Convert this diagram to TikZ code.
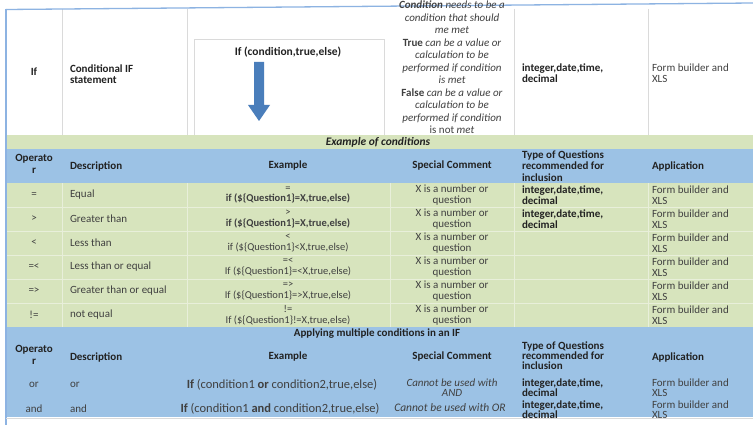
\documentclass[tikz,border=0pt]{standalone}
\usepackage{fontspec}
\setmainfont{Carlito}
\definecolor{greenc}{HTML}{D7E4BD}
\definecolor{bluec}{HTML}{9CC2E5}
\definecolor{gridg}{HTML}{E8EFDA}
\definecolor{gridw}{HTML}{DADADA}
\definecolor{bordc}{HTML}{8DB3E2}
\definecolor{arrowc}{HTML}{4A7EBB}
\definecolor{txtc}{HTML}{404040}
\definecolor{hdc}{HTML}{222222}
\begin{document}
\begin{tikzpicture}[x=1pt,y=-1pt,
  every node/.style={inner sep=0pt, outer sep=0pt},
  base/.style={font=\fontsize{11}{11.5}\selectfont, text=txtc},
  bh/.style={font=\fontsize{11}{11.5}\selectfont\bfseries, text=hdc},
  bht/.style={font=\fontsize{11}{10}\selectfont\bfseries, text=hdc},
  bt/.style={font=\fontsize{11}{10}\selectfont, text=txtc},
  bi/.style={font=\fontsize{11.5}{12}\selectfont\bfseries\itshape, text=hdc},
  it/.style={font=\fontsize{11}{10}\selectfont\itshape, text=txtc},
  sm/.style={font=\fontsize{10.5}{10.5}\selectfont, text=txtc},
  big/.style={font=\fontsize{12.5}{13}\selectfont, text=txtc},
  lft/.style={anchor=west, align=left},
  ctr/.style={anchor=center, align=center},
  gline/.style={draw=gridg, line width=0.7pt},
  wline/.style={draw=gridw, line width=0.6pt},
]
\useasboundingbox (0,0) rectangle (753,425);
\fill[white] (0,0) rectangle (753,425);
% bands
\fill[greenc] (6,135) rectangle (753,149);
\fill[bluec] (6,149) rectangle (753,183);
\fill[greenc] (6,183) rectangle (753,327);
\fill[bluec] (6,327) rectangle (753,417);
% grid in green rows
\foreach \yy in {207,231,255,279,303} \draw[gline] (6,\yy) -- (753,\yy);
\foreach \xx in {62,187,390,514,648} \draw[gline] (\xx,183) -- (\xx,327);
% grid in white top row
\foreach \xx in {62,187,514,648} \draw[wline] (\xx,9) -- (\xx,135);
\draw[wline] (194,135) -- (194,39) -- (384,39) -- (384,135);
% borders
\draw[bordc, line width=1.3pt] (6,9.5) -- (753,3);
\draw[bordc, line width=1.5pt] (6,9) -- (6,425);
\draw[draw=gridw, line width=0.8pt] (6,418.5) -- (753,418.5);
% block arrow
\fill[arrowc] (254,62) -- (264,62) -- (264,105) -- (270,105) -- (259,121) -- (248,105) -- (254,105) -- cycle;

% top row
\node[bh, ctr] (ifop) at (34,72) {If};
\node[bh, lft] (ifdesc) at (70,74) {Conditional IF\\statement};
\node[ctr, font=\fontsize{11.5}{12}\selectfont\bfseries, text=hdc] (ifex) at (288,52) {If (condition,true,else)};
\node[ctr, font=\fontsize{11}{12.5}\selectfont\itshape, text=txtc] (cond) at (452,67.5)
  {\textbf{Condition} needs to be a\\condition that should\\me met\\\textbf{\upshape True} can be a value or\\calculation to be\\performed if condition\\is met\\\textbf{\upshape False} can be a value or\\calculation to be\\performed if condition\\{\upshape is not} met};
\node[bh, lft] (iftype) at (522,73) {integer,date,time,\\decimal};
\node[base, lft] (ifapp) at (652,73) {Form builder and\\XLS};

% band 1
\node[bi, ctr] (band1) at (378,142) {Example of conditions};

% header 1
\node[bh, ctr] (hop1) at (34,164) {Operato\\r};
\node[bh, lft] (hde1) at (70,166) {Description};
\node[bh, ctr] (hex1) at (288,166) {Example};
\node[bh, ctr] (hsc1) at (452,166) {Special Comment};
\node[bh, lft] (hty1) at (522,166) {Type of Questions\\recommended for\\inclusion};
\node[bh, lft] (hap1) at (652,166) {Application};

% row 1
\node[base, ctr] (op1) at (34,195) {=};
\node[base, lft] (de1) at (70,195) {Equal};
\node[sm, ctr] (ex1) at (288,195) {=\\\textbf{if (\$\{Question1\}=X,true,else)}};
\node[base, ctr] (sc1) at (452,195) {X is a number or\\question};
\node[bh, lft] (ty1) at (522,195) {integer,date,time,\\decimal};
\node[base, lft] (ap1) at (652,195) {Form builder and\\XLS};
% row 2
\node[base, ctr] (op2) at (34,219) {>};
\node[base, lft] (de2) at (70,219) {Greater than};
\node[sm, ctr] (ex2) at (288,219) {>\\\textbf{if (\$\{Question1\}=X,true,else)}};
\node[base, ctr] (sc2) at (452,219) {X is a number or\\question};
\node[bh, lft] (ty2) at (522,219) {integer,date,time,\\decimal};
\node[base, lft] (ap2) at (652,219) {Form builder and\\XLS};
% row 3
\node[base, ctr] (op3) at (34,243) {<};
\node[base, lft] (de3) at (70,243) {Less than};
\node[sm, ctr] (ex3) at (288,243) {<\\if (\$\{Question1\}<X,true,else)};
\node[base, ctr] (sc3) at (452,243) {X is a number or\\question};
\node[base, lft] (ap3) at (652,243) {Form builder and\\XLS};
% row 4
\node[base, ctr] (op4) at (34,267) {=<};
\node[base, lft] (de4) at (70,267) {Less than or equal};
\node[sm, ctr] (ex4) at (288,267) {=<\\If (\$\{Question1\}=<X,true,else)};
\node[base, ctr] (sc4) at (452,267) {X is a number or\\question};
\node[base, lft] (ap4) at (652,267) {Form builder and\\XLS};
% row 5
\node[base, ctr] (op5) at (34,291) {=>};
\node[base, lft] (de5) at (70,291) {Greater than or equal};
\node[sm, ctr] (ex5) at (288,291) {=>\\If (\$\{Question1\}=>X,true,else)};
\node[base, ctr] (sc5) at (452,291) {X is a number or\\question};
\node[base, lft] (ap5) at (652,291) {Form builder and\\XLS};
% row 6
\node[base, ctr] (op6) at (34,315) {!=};
\node[base, lft] (de6) at (70,315) {not equal};
\node[sm, ctr] (ex6) at (288,315) {!=\\If (\$\{Question1\}!=X,true,else)};
\node[base, ctr] (sc6) at (452,315) {X is a number or\\question};
\node[base, lft] (ap6) at (652,315) {Form builder and\\XLS};

% band 2
\node[bh, ctr] (band2) at (377,334) {Applying multiple conditions in an IF};

% header 2
\node[bh, ctr] (hop2) at (34,355) {Operato\\r};
\node[bh, lft] (hde2) at (70,357) {Description};
\node[bh, ctr] (hex2) at (288,357) {Example};
\node[bh, ctr] (hsc2) at (452,357) {Special Comment};
\node[bht, lft] (hty2) at (522,356) {Type of Questions\\recommended for\\inclusion};
\node[bh, lft] (hap2) at (652,357) {Application};

% row or
\node[base, ctr] (op7) at (34,385) {or};
\node[base, lft] (de7) at (70,385) {or};
\node[big, ctr] (ex7) at (282,385) {\textbf{If} (condition1 \textbf{or} condition2,true,else)};
\node[it, ctr] (sc7) at (452,388) {Cannot be used with\\AND};
\node[bht, lft] (ty7) at (522,388) {integer,date,time,\\decimal};
\node[bt, lft] (ap7) at (652,388) {Form builder and\\XLS};
% row and
\node[base, ctr] (op8) at (34,409) {and};
\node[base, lft] (de8) at (70,409) {and};
\node[big, ctr] (ex8) at (280,409) {\textbf{If} (condition1 \textbf{and} condition2,true,else)};
\node[it, ctr, font=\fontsize{11.5}{10}\selectfont\itshape] (sc8) at (450,408) {Cannot be used with OR};
\node[bht, lft] (ty8) at (522,410) {integer,date,time,\\decimal};
\node[bt, lft] (ap8) at (652,410) {Form builder and\\XLS};
\end{tikzpicture}
\end{document}
